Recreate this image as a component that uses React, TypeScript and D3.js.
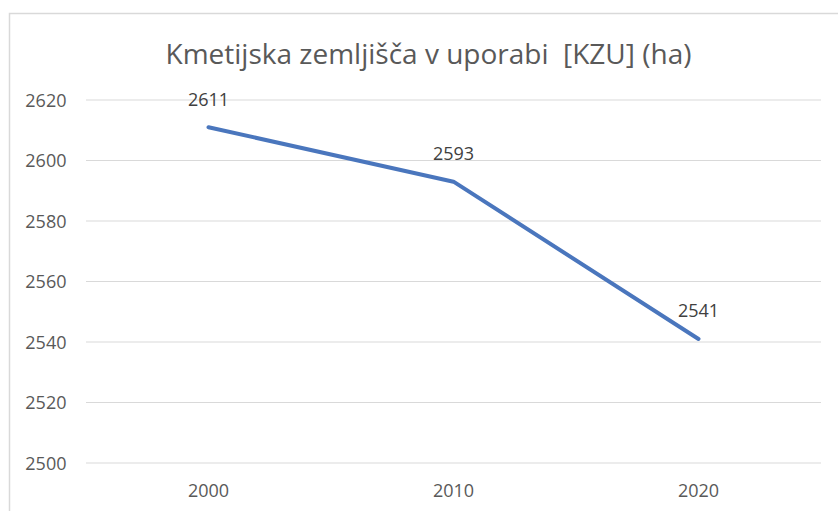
import React from "react";
import * as d3 from "d3";

const categories = ["2000", "2010", "2020"];
const values = [2611, 2593, 2541];
const yTicks = [2500, 2520, 2540, 2560, 2580, 2600, 2620];
const title = "Kmetijska zemljišča v uporabi  [KZU] (ha)";

export default function App() {
  const W = 838, H = 511;
  const left = 86, right = 821, top = 100, bottom = 463;
  const x = d3.scaleBand<string>().domain(categories).range([left, right]);
  const y = d3.scaleLinear().domain([2500, 2620]).range([bottom, top]);
  const pts: [number, number][] = categories.map((c, i) => [x(c)! + x.bandwidth() / 2, y(values[i])]);
  const line = d3.line()(pts) || "";
  const font = "'Open Sans', 'Noto Sans', sans-serif";
  return (
    <svg width={W} height={H} style={{ position: "absolute", left: 0, top: 0, background: "#fff" }} fontFamily={font}>
      <rect x={9.5} y={13.5} width={W} height={H} fill="#fff" stroke="#d9d9d9" strokeWidth={1.5} />
      <text x={428.5} y={63.5} textAnchor="middle" fontSize={28} fill="#595959" style={{ whiteSpace: "pre" }}>{title}</text>
      {yTicks.map((t) => (
        <g key={t}>
          <line x1={left} x2={right} y1={y(t)} y2={y(t)} stroke="#d9d9d9" strokeWidth={1} />
          <text x={66.5} y={y(t) + 6.5} textAnchor="end" fontSize={18} fill="#595959">{t}</text>
        </g>
      ))}
      {categories.map((c) => (
        <text key={c} x={x(c)! + x.bandwidth() / 2} y={496.5} textAnchor="middle" fontSize={18} fill="#595959">{c}</text>
      ))}
      <path d={line} fill="none" stroke="#4a76bd" strokeWidth={4} strokeLinejoin="round" strokeLinecap="round" />
      {pts.map((p, i) => (
        <text key={i} x={p[0]} y={p[1] - 21.5} textAnchor="middle" fontSize={18} fill="#404040">{values[i]}</text>
      ))}
    </svg>
  );
}
